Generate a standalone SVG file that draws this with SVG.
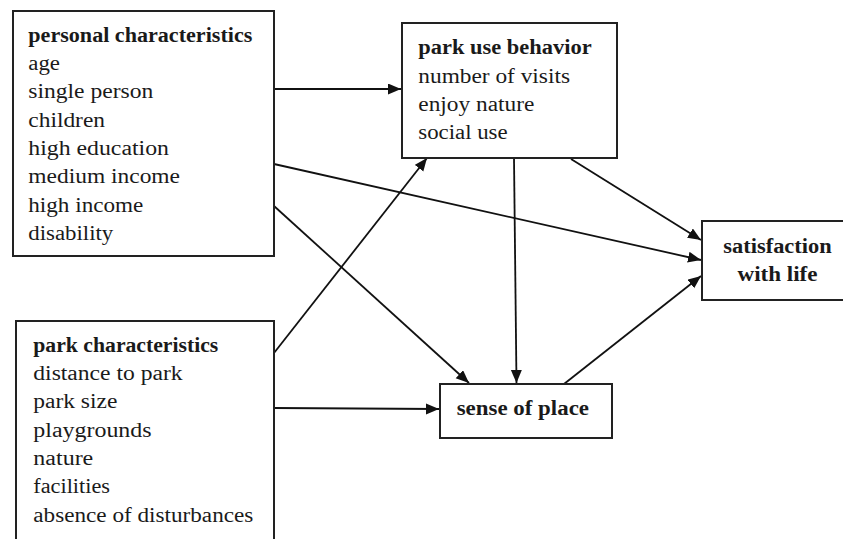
<svg xmlns="http://www.w3.org/2000/svg" width="843" height="539" viewBox="0 0 843 539">
<style>
.box{fill:#fff;stroke:#222;stroke-width:2}
.t{font-family:"Liberation Serif","Times New Roman",serif;font-size:20px;fill:#1a1a1a}
.b{font-weight:bold}
.c{fill:none;stroke:#111;stroke-width:1.8;marker-end:url(#ah)}
</style>
<defs>
<marker id="ah" markerUnits="userSpaceOnUse" markerWidth="14" markerHeight="12" refX="13" refY="5.5" orient="auto">
<path d="M0,0 L13,5.5 L0,11 z" fill="#111"/>
</marker>
</defs>
<rect width="843" height="539" fill="#fff"/>
<g id="connectors">
<line class="c" x1="274" y1="89" x2="401" y2="89"/>
<line class="c" x1="274" y1="164" x2="701" y2="260"/>
<line class="c" x1="274" y1="206" x2="469" y2="383"/>
<line class="c" x1="274" y1="353" x2="427" y2="158"/>
<line class="c" x1="274" y1="408" x2="439" y2="409"/>
<line class="c" x1="514" y1="158" x2="516.5" y2="383"/>
<line class="c" x1="571" y1="159" x2="701" y2="240"/>
<line class="c" x1="564" y1="384" x2="701" y2="276"/>
</g>
<g id="personal">
<rect class="box" x="13" y="11" width="261" height="245"/>
<text class="t b" x="28.3" y="41.7" textLength="224" lengthAdjust="spacingAndGlyphs">personal characteristics</text>
<text class="t" x="28.3" y="70" textLength="31.7" lengthAdjust="spacingAndGlyphs">age</text>
<text class="t" x="28.3" y="98.3" textLength="125" lengthAdjust="spacingAndGlyphs">single person</text>
<text class="t" x="28.3" y="126.6" textLength="76.7" lengthAdjust="spacingAndGlyphs">children</text>
<text class="t" x="28.3" y="154.9" textLength="140.7" lengthAdjust="spacingAndGlyphs">high education</text>
<text class="t" x="28.3" y="183.2" textLength="151.7" lengthAdjust="spacingAndGlyphs">medium income</text>
<text class="t" x="28.3" y="211.5" textLength="115" lengthAdjust="spacingAndGlyphs">high income</text>
<text class="t" x="28.3" y="239.8" textLength="85" lengthAdjust="spacingAndGlyphs">disability</text>
</g>
<g id="parkuse">
<rect class="box" x="402" y="23" width="215" height="135"/>
<text class="t b" x="418.3" y="54.3" textLength="173.3" lengthAdjust="spacingAndGlyphs">park use behavior</text>
<text class="t" x="418.3" y="82.6" textLength="151.7" lengthAdjust="spacingAndGlyphs">number of visits</text>
<text class="t" x="418.3" y="110.9" textLength="116" lengthAdjust="spacingAndGlyphs">enjoy nature</text>
<text class="t" x="418.3" y="139.2" textLength="89.3" lengthAdjust="spacingAndGlyphs">social use</text>
</g>
<g id="satisfaction">
<rect class="box" x="702" y="221" width="150" height="79"/>
<text class="t b" x="777.5" y="253.3" text-anchor="middle" textLength="108.3" lengthAdjust="spacingAndGlyphs">satisfaction</text>
<text class="t b" x="777.5" y="281" text-anchor="middle" textLength="80" lengthAdjust="spacingAndGlyphs">with life</text>
</g>
<g id="parkchar">
<rect class="box" x="16" y="321" width="258" height="240"/>
<text class="t b" x="33.3" y="351.7" textLength="185" lengthAdjust="spacingAndGlyphs">park characteristics</text>
<text class="t" x="33.3" y="380" textLength="149.3" lengthAdjust="spacingAndGlyphs">distance to park</text>
<text class="t" x="33.3" y="408.3" textLength="84" lengthAdjust="spacingAndGlyphs">park size</text>
<text class="t" x="33.3" y="436.6" textLength="118.3" lengthAdjust="spacingAndGlyphs">playgrounds</text>
<text class="t" x="33.3" y="464.9" textLength="60" lengthAdjust="spacingAndGlyphs">nature</text>
<text class="t" x="33.3" y="493.2" textLength="76.7" lengthAdjust="spacingAndGlyphs">facilities</text>
<text class="t" x="33.3" y="521.5" textLength="220" lengthAdjust="spacingAndGlyphs">absence of disturbances</text>
</g>
<g id="sense">
<rect class="box" x="440" y="384" width="172" height="54"/>
<text class="t b" x="456.7" y="415" textLength="132.3" lengthAdjust="spacingAndGlyphs">sense of place</text>
</g>
</svg>
